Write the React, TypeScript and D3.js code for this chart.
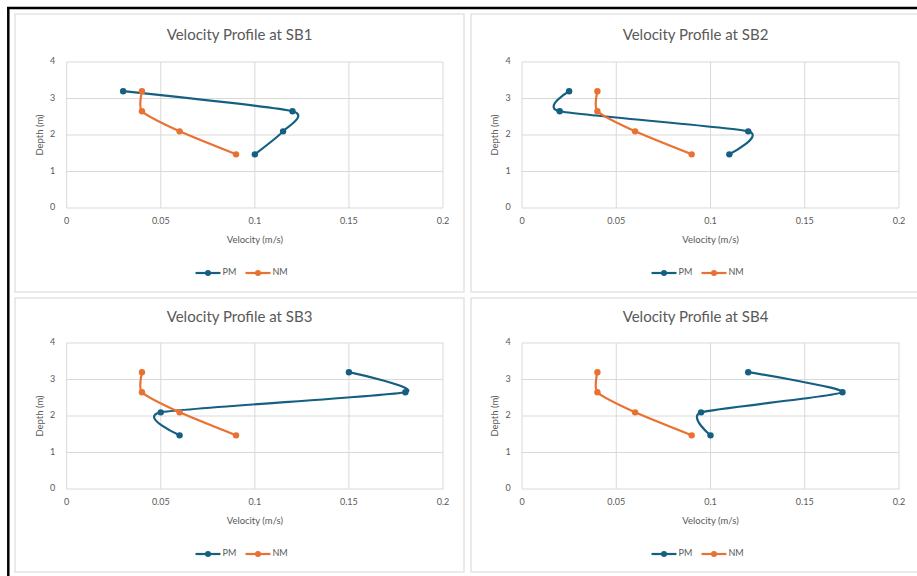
import React from "react";
import * as d3 from "d3";

// Measured depth at each sampling level (m)
const depths = [3.2, 2.65, 2.1, 1.47];

// Station names
const stations = ["SB1", "SB2", "SB3", "SB4"];

// Velocities (m/s) for each station, top to bottom
const pmSB1 = [0.03, 0.12, 0.115, 0.1];
const pmSB2 = [0.025, 0.02, 0.12, 0.11];
const pmSB3 = [0.15, 0.18, 0.05, 0.06];
const pmSB4 = [0.12, 0.17, 0.095, 0.1];
const nmSB1 = [0.04, 0.04, 0.06, 0.09];
const nmSB2 = [0.04, 0.04, 0.06, 0.09];
const nmSB3 = [0.04, 0.04, 0.06, 0.09];
const nmSB4 = [0.04, 0.04, 0.06, 0.09];

const pmSeries = [pmSB1, pmSB2, pmSB3, pmSB4];
const nmSeries = [nmSB1, nmSB2, nmSB3, nmSB4];

const xTicks = [0, 0.05, 0.1, 0.15, 0.2];
const yTicks = [0, 1, 2, 3, 4];
const seriesNames = ["PM", "NM"];

const W = 917;
const H = 576;
const PM_COLOR = "#156082";
const NM_COLOR = "#E97132";
const TEXT = "#595959";
const GRID = "#d9d9d9";
const FONT = "Lato, 'Open Sans', sans-serif";

type Layout = {
  panel: [number, number, number, number];
  px: [number, number];
  py: [number, number];
};

const layouts: Layout[] = [
  { panel: [15, 14, 449, 278], px: [66.7, 443], py: [62, 208] },
  { panel: [471, 14, 460, 278], px: [522, 899], py: [62, 208] },
  { panel: [15, 298, 449, 274], px: [66.7, 443], py: [343, 489] },
  { panel: [471, 298, 460, 274], px: [522, 899], py: [343, 489] },
];

function fmt(v: number) {
  return v === 0 ? "0" : String(v);
}

function Panel({ idx }: { idx: number }) {
  const L = layouts[idx];
  const [bx, by, bw, bh] = L.panel;
  const x = d3.scaleLinear().domain([0, 0.2]).range(L.px);
  const y = d3.scaleLinear().domain([0, 4]).range([L.py[1], L.py[0]]);
  const line = d3
    .line<[number, number]>()
    .x((d) => x(d[0]))
    .y((d) => y(d[1]))
    .curve(d3.curveCardinal.tension(0.4));

  const pm: [number, number][] = pmSeries[idx].map((v, i) => [v, depths[i]]);
  const nm: [number, number][] = nmSeries[idx].map((v, i) => [v, depths[i]]);
  const panelCx = bx + 224.5;
  const plotCx = (L.px[0] + L.px[1]) / 2;
  const plotCy = (L.py[0] + L.py[1]) / 2;
  const titleY = by + (idx < 2 ? 22 : 20);
  const legY = L.py[1] + 65;

  const colors = [PM_COLOR, NM_COLOR];
  const legStart = panelCx - 44;

  return (
    <g>
      <rect x={bx} y={by} width={bw} height={bh} fill="#fff" stroke="#e3e3e3" strokeWidth={1.5} />
      <text x={panelCx} y={titleY} textAnchor="middle" dominantBaseline="middle" fontSize={15} fill={TEXT} fontFamily={FONT}>
        Velocity Profile at {stations[idx]}
      </text>
      {yTicks.map((t) => (
        <g key={"y" + t}>
          <line x1={L.px[0]} x2={L.px[1]} y1={y(t)} y2={y(t)} stroke={GRID} strokeWidth={1} />
          <text x={L.px[0] - 14} y={y(t)} textAnchor="middle" dominantBaseline="middle" fontSize={9} fill={TEXT} fontFamily={FONT}>
            {t}
          </text>
        </g>
      ))}
      {xTicks.map((t) => (
        <g key={"x" + t}>
          <line x1={x(t)} x2={x(t)} y1={L.py[0]} y2={L.py[1]} stroke={GRID} strokeWidth={1} />
          <text x={x(t)} y={L.py[1] + 14} textAnchor="middle" dominantBaseline="middle" fontSize={9} fill={TEXT} fontFamily={FONT}>
            {fmt(t)}
          </text>
        </g>
      ))}
      <text x={plotCx} y={L.py[1] + 33} textAnchor="middle" dominantBaseline="middle" fontSize={9.5} fill={TEXT} fontFamily={FONT}>
        Velocity (m/s)
      </text>
      <text
        transform={`translate(${L.px[0] - 26.5},${plotCy}) rotate(-90)`}
        textAnchor="middle"
        dominantBaseline="middle"
        fontSize={9.5}
        fill={TEXT}
        fontFamily={FONT}
      >
        Depth (m)
      </text>
      <path d={line(pm) || ""} fill="none" stroke={PM_COLOR} strokeWidth={2.2} />
      <path d={line(nm) || ""} fill="none" stroke={NM_COLOR} strokeWidth={2.2} />
      {pm.map((d, i) => (
        <circle key={"p" + i} cx={x(d[0])} cy={y(d[1])} r={3.2} fill={PM_COLOR} />
      ))}
      {nm.map((d, i) => (
        <circle key={"n" + i} cx={x(d[0])} cy={y(d[1])} r={3.2} fill={NM_COLOR} />
      ))}
      {seriesNames.map((name, i) => {
        const sx = legStart + i * 50;
        return (
          <g key={name}>
            <line x1={sx} x2={sx + 25} y1={legY} y2={legY} stroke={colors[i]} strokeWidth={2.2} />
            <circle cx={sx + 12.5} cy={legY} r={3} fill={colors[i]} />
            <text x={sx + 27} y={legY} dominantBaseline="middle" fontSize={9} fill={TEXT} fontFamily={FONT}>
              {name}
            </text>
          </g>
        );
      })}
    </g>
  );
}

export default function App() {
  return (
    <svg width={W} height={H} style={{ position: "absolute", left: 0, top: 0, background: "#fff" }}>
      <rect x={0} y={0} width={W} height={H} fill="#fff" />
      <line x1={7} x2={W} y1={8} y2={8} stroke="#000" strokeWidth={2.5} />
      <line x1={8.3} x2={8.3} y1={7} y2={H} stroke="#000" strokeWidth={2.5} />
      {stations.map((s, i) => (
        <Panel key={s} idx={i} />
      ))}
    </svg>
  );
}
